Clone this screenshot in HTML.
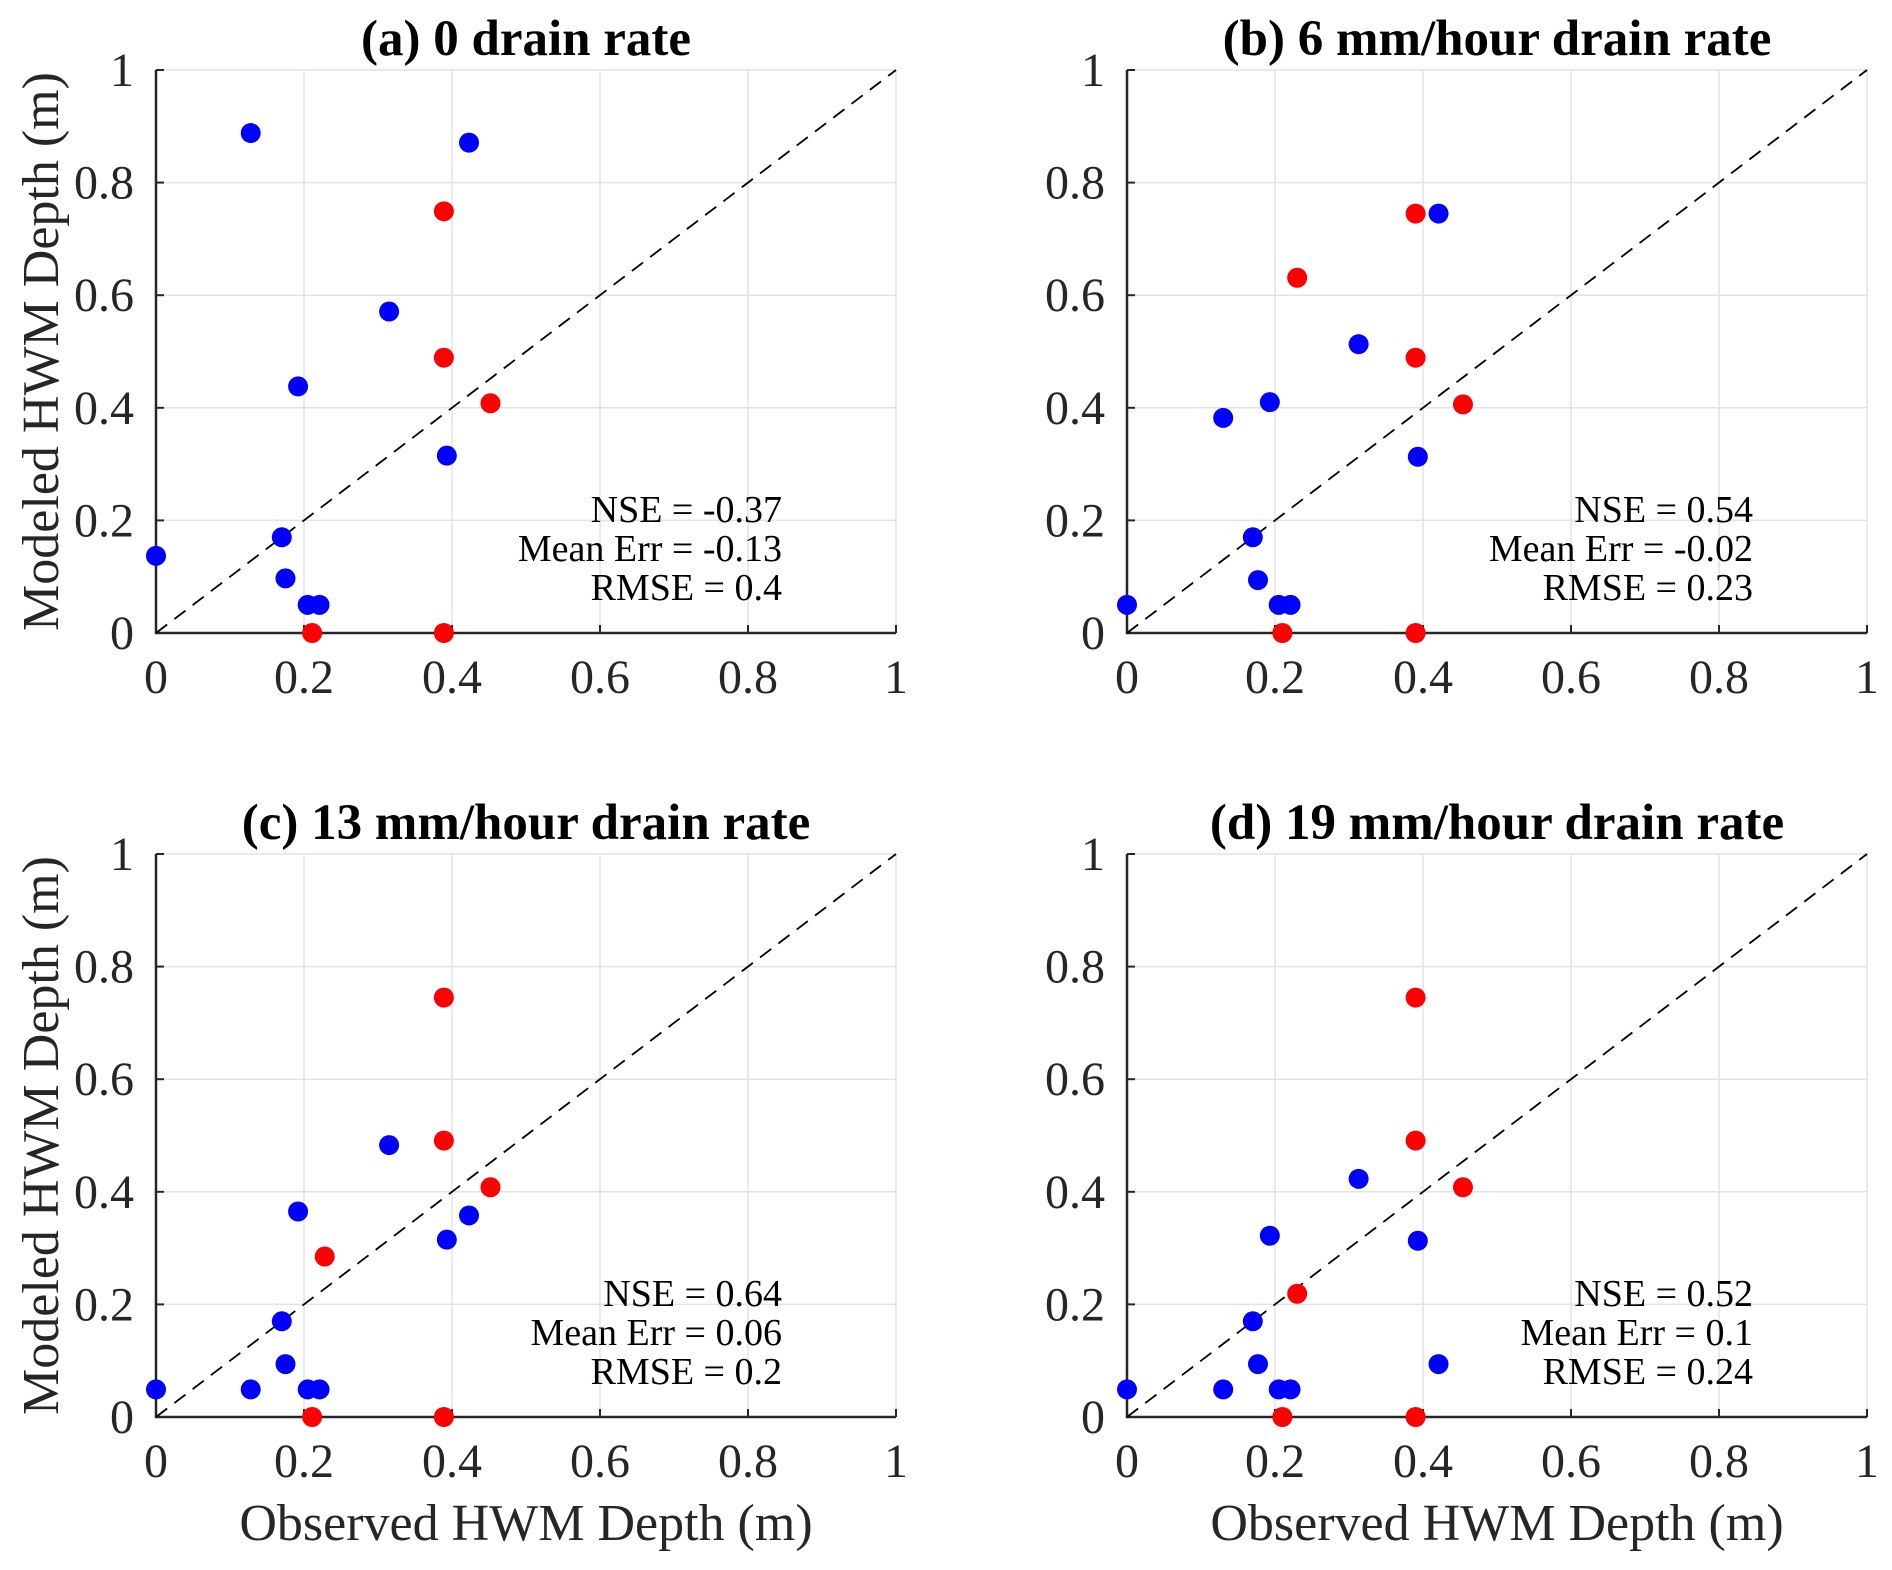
<!DOCTYPE html>
<html><head><meta charset="utf-8"><style>
html,body{margin:0;padding:0;background:#fff}
svg{display:block;font-family:"Liberation Serif",serif}
</style></head><body>
<svg id="fig" width="1892" height="1570" viewBox="0 0 1892 1570" xmlns="http://www.w3.org/2000/svg"></svg>
<script>
const tickVals=[0,0.2,0.4,0.6,0.8,1];
const tickLabels=["0","0.2","0.4","0.6","0.8","1"];
const titles=["(a) 0 drain rate","(b) 6 mm/hour drain rate","(c) 13 mm/hour drain rate","(d) 19 mm/hour drain rate"];
const statsA=["NSE = -0.37","Mean Err = -0.13","RMSE = 0.4"];
const statsB=["NSE = 0.54","Mean Err = -0.02","RMSE = 0.23"];
const statsC=["NSE = 0.64","Mean Err = 0.06","RMSE = 0.2"];
const statsD=["NSE = 0.52","Mean Err = 0.1","RMSE = 0.24"];
const blueXA=[0.128,0.423,0.315,0.192,0.393,0.17,0.175,0.205,0.221,0];
const blueYA=[0.888,0.871,0.571,0.438,0.315,0.17,0.097,0.05,0.05,0.137];
const redXA=[0.389,0.389,0.452,0.211,0.389];
const redYA=[0.749,0.489,0.408,0,0];
const blueXB=[0.421,0.313,0.193,0.13,0.393,0.17,0.177,0.205,0.221,0];
const blueYB=[0.745,0.513,0.41,0.382,0.313,0.17,0.094,0.05,0.05,0.05];
const redXB=[0.39,0.23,0.39,0.454,0.21,0.39];
const redYB=[0.745,0.631,0.489,0.406,0,0];
const blueXC=[0.315,0.192,0.423,0.393,0.17,0.175,0.128,0.205,0.221,0];
const blueYC=[0.483,0.365,0.358,0.315,0.17,0.094,0.049,0.049,0.049,0.049];
const redXC=[0.389,0.389,0.452,0.228,0.211,0.389];
const redYC=[0.745,0.491,0.408,0.285,0,0];
const blueXD=[0.313,0.193,0.393,0.17,0.177,0.421,0.13,0.205,0.221,0];
const blueYD=[0.423,0.322,0.313,0.17,0.094,0.094,0.049,0.049,0.049,0.049];
const redXD=[0.39,0.39,0.454,0.23,0.21,0.39];
const redYD=[0.745,0.491,0.408,0.219,0,0];

const NS="http://www.w3.org/2000/svg";
const svg=document.getElementById('fig');
function mk(tag,attrs,parent,text){const e=document.createElementNS(NS,tag);for(const k in attrs)e.setAttribute(k,attrs[k]);if(text!==undefined)e.textContent=text;parent.appendChild(e);return e;}
const panels=[
 {x0:156,y0:70,t:titles[0],s:statsA,bx:blueXA,by:blueYA,rx:redXA,ry:redYA,ylab:true,xlab:false,id:'a'},
 {x0:1127,y0:70,t:titles[1],s:statsB,bx:blueXB,by:blueYB,rx:redXB,ry:redYB,ylab:false,xlab:false,id:'b'},
 {x0:156,y0:854,t:titles[2],s:statsC,bx:blueXC,by:blueYC,rx:redXC,ry:redYC,ylab:true,xlab:true,id:'c'},
 {x0:1127,y0:854,t:titles[3],s:statsD,bx:blueXD,by:blueYD,rx:redXD,ry:redYD,ylab:false,xlab:true,id:'d'}];
const W=740,H=563;
panels.forEach(p=>{
 const g=mk('g',{},svg);
 
 
 const sx=v=>p.x0+v*W, sy=v=>p.y0+H-v*H;
 tickVals.forEach((v,i)=>{
  const gx=mk('line',{x1:sx(v),x2:sx(v),y1:p.y0,y2:p.y0+H,stroke:'#e3e3e3','stroke-width':1.5},g);
  
  
  const gy=mk('line',{x1:p.x0,x2:p.x0+W,y1:sy(v),y2:sy(v),stroke:'#e3e3e3','stroke-width':1.5},g);
  
  
  const tx=mk('text',{x:sx(v),y:p.y0+H+60,'text-anchor':'middle','font-size':48,fill:'#262626'},g,tickLabels[i]);
  
  
  const ty=mk('text',{x:p.x0-22,y:sy(v)+16,'text-anchor':'end','font-size':48,fill:'#262626'},g,tickLabels[i]);
  
  
  mk('line',{x1:sx(v),x2:sx(v),y1:p.y0+H,y2:p.y0+H-8,stroke:'#262626','stroke-width':2},g);
  mk('line',{x1:p.x0,x2:p.x0+8,y1:sy(v),y2:sy(v),stroke:'#262626','stroke-width':2},g);
 });
 const ax=mk('path',{d:`M${p.x0} ${p.y0} V${p.y0+H} H${p.x0+W}`,fill:'none',stroke:'#262626','stroke-width':2.5},g);
 
 
 const dl=mk('line',{x1:sx(0),y1:sy(0),x2:sx(1),y2:sy(1),stroke:'#000','stroke-width':1.8,'stroke-dasharray':'14 9'},g);
 
 
 p.bx.forEach((v,i)=>{
  const c=mk('circle',{cx:sx(v),cy:sy(p.by[i]),r:10,fill:'#0000ff'},g);
  
  
 });
 p.rx.forEach((v,i)=>{
  const c=mk('circle',{cx:sx(v),cy:sy(p.ry[i]),r:10,fill:'#ff0000'},g);
  
  
 });
 p.s.forEach((t,i)=>{
  const st=mk('text',{x:p.x0+626,y:p.y0+452+i*39,'text-anchor':'end','font-size':38,fill:'#000'},g,t);
  
  
 });
 const ti=mk('text',{x:p.x0+W/2,y:p.y0-15,'text-anchor':'middle','font-size':51,'font-weight':'bold',fill:'#000'},g,p.t);
 
 
 if(p.ylab){
  const yl=mk('text',{x:0,y:0,transform:`translate(58 ${p.y0+H/2}) rotate(-90)`,'text-anchor':'middle','font-size':52,fill:'#262626'},g,'Modeled HWM Depth (m)');
  
  
 }
 if(p.xlab){
  const xl=mk('text',{x:p.x0+W/2,y:p.y0+H+123,'text-anchor':'middle','font-size':52,fill:'#262626'},g,'Observed HWM Depth (m)');
  
  
 }
});
</script>
</body></html>
